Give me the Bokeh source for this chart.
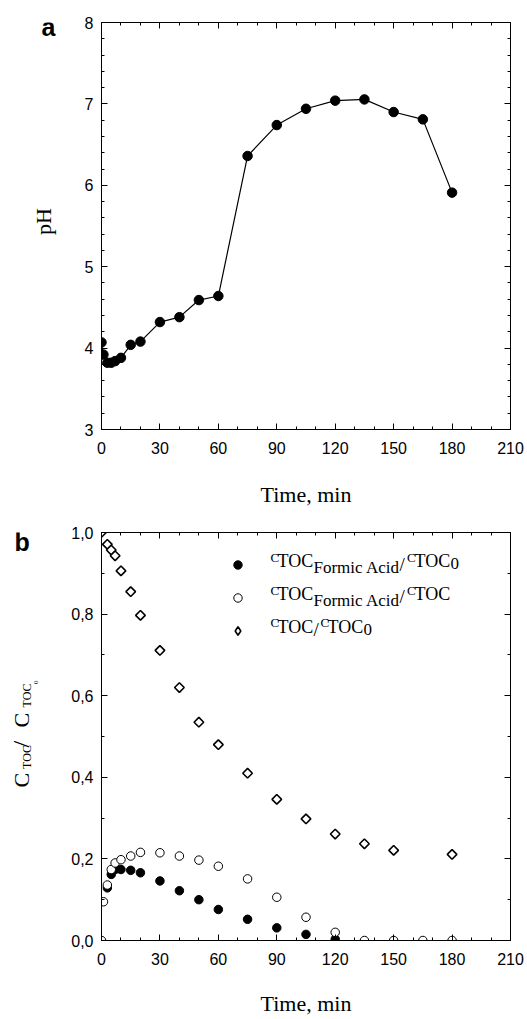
import numpy as np
from bokeh.plotting import figure
from bokeh.models import (LinearAxis, SingleIntervalTicker, Range1d, Label, Legend,
                          LegendItem, CustomJSTickFormatter)
from bokeh.core.properties import value
from bokeh.layouts import column, row
from bokeh.embed import file_html
from bokeh.resources import INLINE

# ---------------- data ----------------
time_ph = [0, 1, 3, 5, 7, 10, 15, 20, 30, 40, 50, 60, 75, 90, 105, 120, 135, 150, 165, 180]
ph = [4.07, 3.92, 3.82, 3.82, 3.84, 3.88, 4.04, 4.08, 4.32, 4.38, 4.59, 4.64,
      6.36, 6.74, 6.94, 7.04, 7.055, 6.90, 6.81, 5.91]

time_fa0 = [3, 5, 7, 10, 15, 20, 30, 40, 50, 60, 75, 90, 105, 120]
fa_over_toc0 = [0.129, 0.162, 0.174, 0.174, 0.172, 0.166, 0.146, 0.122, 0.100, 0.076,
                0.052, 0.031, 0.015, 0.003]

time_fa = [0, 1, 3, 5, 7, 10, 15, 20, 30, 40, 50, 60, 75, 90, 105, 120, 135, 150, 165, 180]
fa_over_toc = [0.0, 0.095, 0.136, 0.174, 0.190, 0.198, 0.207, 0.216, 0.215, 0.207, 0.197,
               0.182, 0.151, 0.106, 0.057, 0.020, 0.0, 0.0, 0.0, 0.0]

time_toc = [0, 3, 5, 7, 10, 15, 20, 30, 40, 50, 60, 75, 90, 105, 120, 135, 150, 180]
toc_over_toc0 = [1.0, 0.971, 0.957, 0.943, 0.906, 0.855, 0.797, 0.711, 0.620, 0.535, 0.480,
                 0.410, 0.346, 0.298, 0.261, 0.237, 0.221, 0.211]

x_label = "Time, min"
ph_label = "pH"
panel_letters = ["a", "b"]
# legend rows: (text, role)
legend_rows = [
    [("C", "sup"), ("TOC", "main"), ("Formic Acid", "sub"), ("/", "slash"),
     ("C", "sup"), ("TOC", "main"), ("0", "sub")],
    [("C", "sup"), ("TOC", "main"), ("Formic Acid", "sub"), ("/", "slash"),
     ("C", "sup"), ("TOC", "main")],
    [("C", "sup"), ("TOC", "main"), ("/", "slash"), ("C", "sup"), ("TOC", "main"), ("0", "sub")],
]
ylabel_b = [("C", "big"), ("TOC", "small"), ("/", "bigslash"), ("C", "big"), ("TOC", "small"),
            ("0", "tiny")]

# ---------------- layout / style ----------------
SANS = "Liberation Sans"
SERIF = "Liberation Serif"
ASC = {SANS: 0.905, SERIF: 0.891}     # font ascent (em) -> top-anchored text
SIDE_W = 61          # narrow text column on the left
MAIN_W = 466
LEFT, RIGHT = 40, 17
H_A, TOP_A, BOT_A = 510, 22, 81
H_B, TOP_B, BOT_B = 509, 22, 79
FRAME_A = H_A - TOP_A - BOT_A
FRAME_B = H_B - TOP_B - BOT_B

empty_fmt = CustomJSTickFormatter(code="return ''")


def style_axis(ax, ticker, labels=True, standoff=8):
    ax.ticker = ticker
    ax.axis_line_color = "black"
    ax.axis_line_width = 1
    ax.major_tick_line_color = "black"
    ax.minor_tick_line_color = "black"
    ax.major_tick_in = 6
    ax.major_tick_out = 0
    ax.minor_tick_in = 3
    ax.minor_tick_out = 0
    if labels:
        ax.major_label_text_font = SANS
        ax.major_label_text_font_size = "16px"
        ax.major_label_text_color = "black"
        ax.major_label_standoff = standoff
    else:
        ax.formatter = empty_fmt
        ax.major_label_text_font_size = "0px"
        ax.major_label_standoff = 0
    ax.axis_label_text_font = SERIF
    ax.axis_label_text_font_style = "normal"
    ax.axis_label_text_font_size = "22px"
    ax.axis_label_text_color = "black"


def make_fig(height, top, bottom, yr, xticker, yticker, label_standoff):
    p = figure(width=MAIN_W, height=height, x_range=Range1d(0, 210), y_range=yr,
               title=None, output_backend="svg", toolbar_location=None,
               x_axis_type=None, y_axis_type=None,
               min_border_left=LEFT, min_border_right=RIGHT,
               min_border_top=top, min_border_bottom=bottom)
    p.xgrid.grid_line_color = None
    p.ygrid.grid_line_color = None
    p.outline_line_color = "black"
    p.outline_line_width = 1
    p.background_fill_color = "white"
    p.border_fill_color = "white"
    bottom_ax = LinearAxis(axis_label=x_label)
    style_axis(bottom_ax, xticker, standoff=12)
    bottom_ax.axis_label_standoff = label_standoff
    left_ax = LinearAxis()
    style_axis(left_ax, yticker, standoff=8)
    top_ax = LinearAxis()
    style_axis(top_ax, xticker, labels=False)
    right_ax = LinearAxis()
    style_axis(right_ax, yticker, labels=False)
    p.add_layout(bottom_ax, "below")
    p.add_layout(left_ax, "left")
    p.add_layout(top_ax, "above")
    p.add_layout(right_ax, "right")
    return p, left_ax


def make_side(height, frame_h):
    # in a row, Bokeh aligns this frame with the neighbour's frame -> y in frame pixels
    s = figure(width=SIDE_W, height=height, x_range=Range1d(0, SIDE_W),
               y_range=Range1d(0, frame_h), title=None, output_backend="svg",
               toolbar_location=None, x_axis_type=None, y_axis_type=None,
               min_border=0, min_border_left=0, min_border_right=0,
               min_border_top=0, min_border_bottom=0)
    s.xgrid.grid_line_color = None
    s.ygrid.grid_line_color = None
    s.outline_line_color = None
    s.background_fill_color = "white"
    s.border_fill_color = "white"
    return s


def add_label(p, text, x, y, dx, dy_baseline_below, size, font=SERIF):
    # dy_baseline_below: wanted baseline position, px below the anchor (x, y)
    top_below = dy_baseline_below - ASC[font] * size
    p.add_layout(Label(x=x, y=y, x_offset=dx, y_offset=-top_below, text=text,
                       text_font=font, text_font_size=f"{size}px",
                       text_color="black", text_align="left", text_baseline="top"))


def side_text(s, frame_top, frame_h, text, px, py, size, font=SERIF, style="normal",
              rotated=False, align="left"):
    # (px, py) in page pixels.
    # horizontal: px = left x, py = baseline y; rotated (reads upward): px = baseline x,
    # py = centre y
    asc = ASC[font] * size
    if rotated:
        x, y, angle = px - asc, py, np.pi / 2
    else:
        x, y, angle = px, py - asc, 0.0
    s.text(x=[x], y=[frame_h - (y - frame_top)], text=[text], angle=angle,
           text_font=value(font), text_font_size=value(f"{size}px"),
           text_font_style=style, text_color="black", text_align=align,
           text_baseline="top")


# ---------------- panel a ----------------
p1, _ = make_fig(H_A, TOP_A, BOT_A, Range1d(3, 8),
                 SingleIntervalTicker(interval=30, num_minor_ticks=3),
                 SingleIntervalTicker(interval=1, num_minor_ticks=5), 25)
p1.line(time_ph, ph, line_color="black", line_width=1.2)
p1.scatter(time_ph, ph, marker="circle", size=9.5, fill_color="black", line_color="black")

s1 = make_side(H_A, FRAME_A)
FT_A = TOP_A
side_text(s1, FT_A, FRAME_A, panel_letters[0], 41, 35, 25, font=SANS, style="bold")
side_text(s1, FT_A, FRAME_A, ph_label, 50, 221, 22, rotated=True, align="center")

# ---------------- panel b ----------------
p2, left_b = make_fig(H_B, TOP_B, BOT_B, Range1d(0, 1.0),
                      SingleIntervalTicker(interval=30, num_minor_ticks=3),
                      SingleIntervalTicker(interval=0.2, num_minor_ticks=2), 23)
left_b.formatter = CustomJSTickFormatter(code="return tick.toFixed(1).replace('.', ',')")

# diamond-shaped legend key: a slim diamond hidden under each rotated square
r_toc_key = p2.scatter(time_toc, toc_over_toc0, marker="diamond", size=5.5,
                       fill_color="white", line_color="black", line_width=1.6)
r_toc = p2.scatter(time_toc, toc_over_toc0, marker="square", angle=np.pi / 4, size=6.8,
                   fill_color="white", line_color="black", line_width=1.6)
r_fa0 = p2.scatter(time_fa0, fa_over_toc0, marker="circle", size=8.5,
                   fill_color="black", line_color="black")
r_fa = p2.scatter(time_fa, fa_over_toc, marker="circle", size=8.5,
                  fill_color="white", line_color="black", line_width=1)

legend = Legend(items=[LegendItem(label="", renderers=[r_fa0]),
                       LegendItem(label="", renderers=[r_fa]),
                       LegendItem(label="", renderers=[r_toc_key])],
                location=(126, FRAME_B - 109), glyph_width=21, glyph_height=21,
                spacing=12, padding=0, label_width=0, label_standoff=0, label_height=21,
                background_fill_alpha=0, border_line_alpha=0)
p2.add_layout(legend)

# legend texts (x offset px from the frame's left edge, baseline px below the frame top)
role_size = {"sup": 13, "main": 18, "sub": 17, "slash": 19}
role_dy = {"sup": -6, "main": 0, "sub": 6, "slash": 3}
row_x = [[169, 176, 212, 298, 305.5, 313, 349],
         [169, 176, 212, 298, 305.5, 313],
         [169, 176, 212, 219, 226, 262]]
row_base = [35.0, 67.7, 100.4]
for segs, xs, base in zip(legend_rows, row_x, row_base):
    for (txt, role), dx in zip(segs, xs):
        add_label(p2, txt, 0, 1.0, dx, base + role_dy[role], role_size[role])

s2 = make_side(H_B, FRAME_B)
FT_B = H_A + TOP_B           # page y of panel b's frame top
side_text(s2, FT_B, FRAME_B, panel_letters[1], 14, 550, 25, font=SANS, style="bold")
# rotated y-axis label of panel b (baseline x, centre y of each piece, page pixels)
yl_size = {"big": 22, "small": 12, "bigslash": 24, "tiny": 7}
yl_x = {"big": 28.3, "small": 30, "bigslash": 29, "tiny": 39.3}
yl_centre = [779.7, 756.5, 743.7, 719.7, 695, 681.8]
for (txt, role), cy in zip(ylabel_b, yl_centre):
    side_text(s2, FT_B, FRAME_B, txt, yl_x[role], cy, yl_size[role], rotated=True,
              align="center")

layout = column(row(s1, p1, spacing=0), row(s2, p2, spacing=0), spacing=0)
open("out.html", "w").write(file_html(layout, INLINE))
